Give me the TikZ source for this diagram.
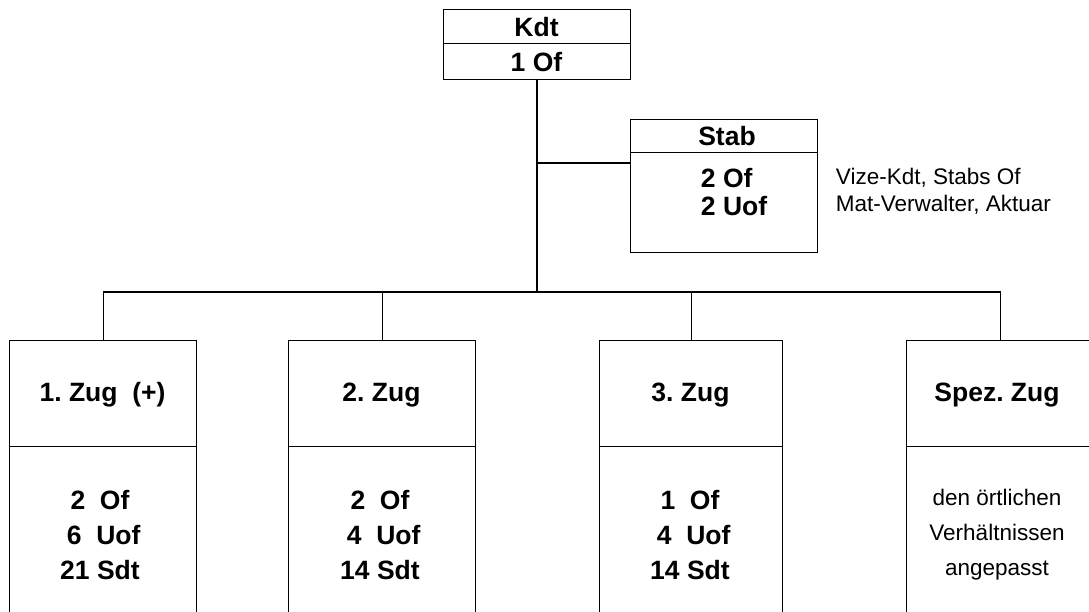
\documentclass[tikz,border=0pt]{standalone}
\usepackage{fontspec}
\setmainfont{Liberation Sans}
\begin{document}
\frenchspacing
\begin{tikzpicture}[x=1bp,y=-1bp,
  line width=1.2bp,
  bx/.style={draw, rectangle, inner sep=0pt, anchor=north west},
  bt/.style={font=\fontsize{26.5bp}{35bp}\selectfont\bfseries},
  bs/.style={font=\fontsize{26.5bp}{28.5bp}\selectfont\bfseries},
  rt/.style={font=\fontsize{22.5bp}{27.5bp}\selectfont},
  rb/.style={font=\fontsize{22.5bp}{35bp}\selectfont},
  conn/.style={draw, line width=1.2bp}]
\useasboundingbox (0,0) rectangle (1089,612);
\clip (0,0) rectangle (1089,612);
% Kdt
\node[bx, minimum width=187bp, minimum height=34bp] (kdt) at (443,9) {};
\node[bx, minimum width=187bp, minimum height=36bp] (kdtof) at (443,43) {};
\node[bt] at (536.5,27.5) {Kdt};
\node[bt] at (536.5,62) {1 Of};
% Stab
\node[bx, minimum width=187bp, minimum height=33bp] (stab) at (630,119) {};
\node[bx, minimum width=187bp, minimum height=100bp] (stabof) at (630,152) {};
\node[bt] at (727,136) {Stab};
\node[bs, align=left, anchor=west] at (697,192) {2 Of\\2 Uof};
\node[rt, align=left, anchor=west] (stabnote) at (832,191.5) {Vize-Kdt, Stabs Of\\Mat-Verwalter, Aktuar};
% Zuege
\node[bx, minimum width=187bp, minimum height=106bp] (z1) at (9,340) {};
\node[bx, minimum width=187bp, minimum height=200bp] (z1b) at (9,446) {};
\node[bx, minimum width=187bp, minimum height=106bp] (z2) at (288,340) {};
\node[bx, minimum width=187bp, minimum height=200bp] (z2b) at (288,446) {};
\node[bx, minimum width=183bp, minimum height=106bp] (z3) at (599,340) {};
\node[bx, minimum width=183bp, minimum height=200bp] (z3b) at (599,446) {};
\node[bx, minimum width=187bp, minimum height=106bp] (z4) at (906,340) {};
\node[bx, minimum width=187bp, minimum height=200bp] (z4b) at (906,446) {};
\node[bt] at (102.5,395) {1. Zug\ \ (+)};
\node[bt] at (381.5,395) {2. Zug};
\node[bt] at (690.5,395) {3. Zug};
\node[bt] at (997,395) {Spez. Zug};
\node[bt, align=center] at (100,535) {2\ \ Of\\\ 6\ \ Uof\\21 Sdt};
\node[bt, align=center] at (380,535) {2\ \ Of\\\ 4\ \ Uof\\14 Sdt};
\node[bt, align=center] at (690,535) {1\ \ Of\\\ 4\ \ Uof\\14 Sdt};
\node[rb, align=center] at (997,535) {den örtlichen\\Verhältnissen\\angepasst};
% connectors
\coordinate (j) at (537,292);
\coordinate (sj) at (537,163);
\draw[conn] (kdtof.south -| j) -- (j);
\draw[conn] (sj) -- (stabof.west |- sj);
\draw[conn] (z1.north) |- (j) -| (z4.north);
\draw[conn] (z2.north) -- (z2.north |- j);
\draw[conn] (z3.north) -- (z3.north |- j);
\end{tikzpicture}
\end{document}
